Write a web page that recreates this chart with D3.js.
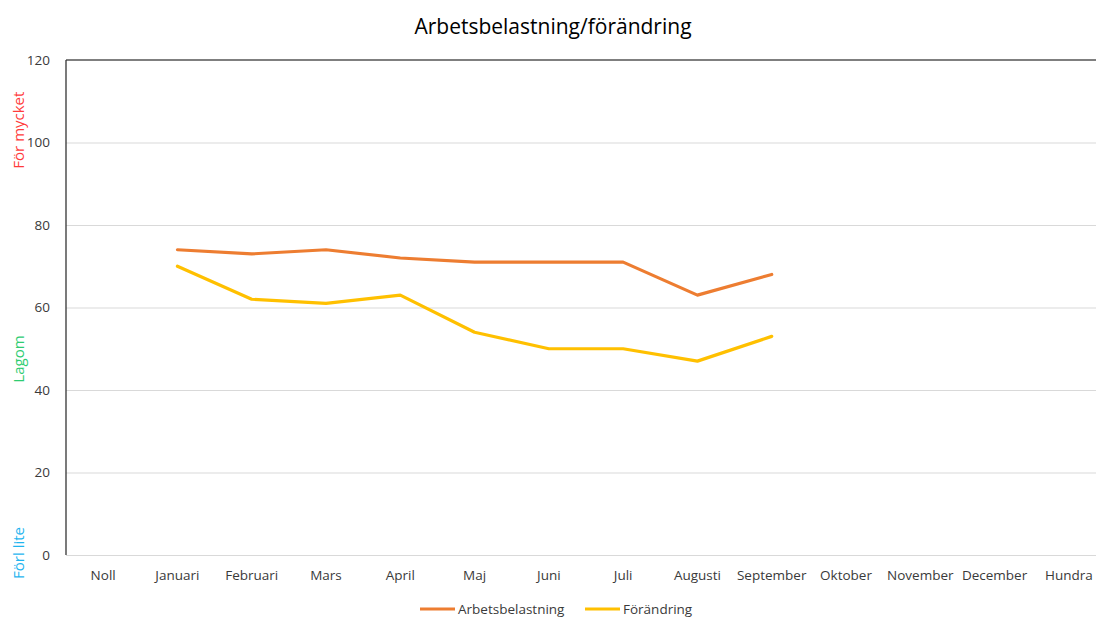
<!DOCTYPE html>
<html>
<head>
<meta charset="utf-8">
<script src="https://cdn.jsdelivr.net/npm/d3@7"></script>
<style>
	body { margin: 0; background: #fff; }
	svg { display: block; font-family: "Open Sans", sans-serif; }
</style>
</head>
<body>
<svg id="chart" width="1096" height="619"></svg>
<script>
var months = ["Noll", "Januari", "Februari", "Mars", "April", "Maj", "Juni", "Juli",
	"Augusti", "September", "Oktober", "November", "December", "Hundra"];
var arbetsbelastning = [null, 74, 73, 74, 72, 71, 71, 71, 63, 68, null, null, null, null];
var forandring = [null, 70, 62, 61, 63, 54, 50, 50, 47, 53, null, null, null, null];
var yTicks = [0, 20, 40, 60, 80, 100, 120];
var zoneLabels = [
	{ text: "För mycket", value: 103, color: "#ff3b3b" },
	{ text: "Lagom", value: 47.5, color: "#2ecc71" },
	{ text: "Förl lite", value: 0.5, color: "#1fb5ef" }
];
var series = [
	{ name: "Arbetsbelastning", values: arbetsbelastning, color: "#ed7d31" },
	{ name: "Förändring", values: forandring, color: "#ffc000" }
];

var svg = d3.select("#chart");
var plotLeft = 66, plotRight = 1106, plotTop = 60, plotBottom = 555;

var x = d3.scaleBand().domain(months).range([plotLeft, plotRight]);
var y = d3.scaleLinear().domain([0, 120]).range([plotBottom, plotTop]);

// gridlines
svg.append("g")
	.selectAll("line")
	.data(yTicks.filter(function (d) { return d < 120; }))
	.enter().append("line")
	.attr("x1", plotLeft).attr("x2", plotRight)
	.attr("y1", function (d) { return y(d) + 0.5; })
	.attr("y2", function (d) { return y(d) + 0.5; })
	.attr("stroke", "#d9d9d9").attr("stroke-width", 1);

// top border and left axis line
svg.append("line")
	.attr("x1", plotLeft).attr("x2", plotRight).attr("y1", plotTop).attr("y2", plotTop)
	.attr("stroke", "#555").attr("stroke-width", 1.5);
svg.append("line")
	.attr("x1", plotLeft).attr("x2", plotLeft).attr("y1", plotTop).attr("y2", plotBottom)
	.attr("stroke", "#333").attr("stroke-width", 1.3);

// y axis labels
var yAxis = d3.axisLeft(y).tickValues(yTicks).tickSize(0).tickPadding(16);
var yg = svg.append("g").attr("transform", "translate(" + plotLeft + ",0)").call(yAxis);
yg.select(".domain").remove();
yg.selectAll("text").attr("fill", "#3a3a3a").style("font-size", "13.5px")
	.style("font-family", "Open Sans, sans-serif");

// x axis labels
var xAxis = d3.axisBottom(x).tickSize(0).tickPadding(15);
var xg = svg.append("g").attr("transform", "translate(0," + plotBottom + ")").call(xAxis);
xg.select(".domain").remove();
xg.selectAll("text").attr("fill", "#3a3a3a").style("font-size", "13.5px")
	.style("font-family", "Open Sans, sans-serif");

// zone labels on the left
svg.append("g")
	.selectAll("text")
	.data(zoneLabels)
	.enter().append("text")
	.attr("transform", function (d) { return "translate(24," + y(d.value) + ") rotate(-90)"; })
	.attr("text-anchor", "middle")
	.attr("fill", function (d) { return d.color; })
	.style("font-size", "15px")
	.text(function (d) { return d.text; });

// lines
var line = d3.line()
	.defined(function (d) { return d != null; })
	.x(function (d, i) { return x(months[i]) + x.bandwidth() / 2; })
	.y(function (d) { return y(d); });

svg.append("g")
	.selectAll("path")
	.data(series)
	.enter().append("path")
	.attr("d", function (d) { return line(d.values); })
	.attr("fill", "none")
	.attr("stroke", function (d) { return d.color; })
	.attr("stroke-width", 3.2)
	.attr("stroke-linejoin", "round")
	.attr("stroke-linecap", "round");

// title
svg.append("text")
	.attr("x", 553).attr("y", 34)
	.attr("text-anchor", "middle")
	.attr("fill", "#000")
	.style("font-size", "21px")
	.text("Arbetsbelastning/förändring");

// legend
var legendX = [420, 585];
var legend = svg.append("g")
	.selectAll("g")
	.data(series)
	.enter().append("g")
	.attr("transform", function (d, i) { return "translate(" + legendX[i] + ",609)"; });
legend.append("line")
	.attr("x1", 0).attr("x2", 35)
	.attr("stroke", function (d) { return d.color; })
	.attr("stroke-width", 3.2);
legend.append("text")
	.attr("x", 38).attr("y", 5)
	.attr("fill", "#3a3a3a")
	.style("font-size", "13.5px")
	.text(function (d) { return d.name; });
</script>
</body>
</html>
